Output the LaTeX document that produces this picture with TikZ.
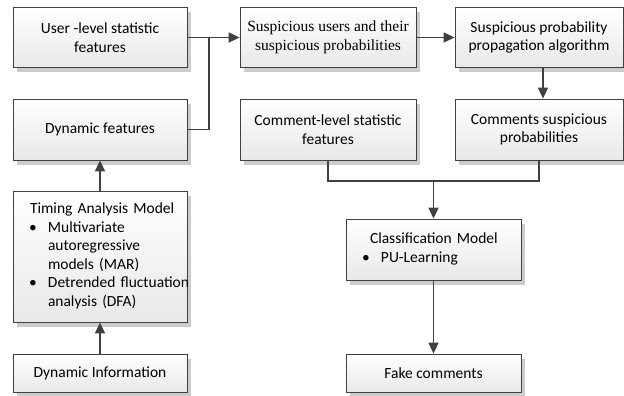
\documentclass[tikz,border=0pt]{standalone}
\usepackage{fontspec}
\setmainfont{Carlito}
\newfontfamily\timesfont{Liberation Serif}
\usetikzlibrary{arrows.meta,shadows}

\begin{document}
\begin{tikzpicture}[x=1pt,y=-1pt,
    box/.style={draw=black!75, line width=0.8pt, top color=white, bottom color=black!9,
      drop shadow={shadow xshift=4pt, shadow yshift=-5pt, fill=black!20, opacity=1},
      minimum width=174pt, minimum height=60pt, align=center, inner sep=2pt,
      font=\fontsize{15.5}{18.5}\selectfont},
    link/.style={draw=black!75, line width=1.5pt},
    arr/.style={link, -{Triangle[length=11pt,width=10pt]}}]
      \useasboundingbox (0,0) rectangle (624,396);

      \node[box] (b1) at (100,37.5){User -level statistic\\features};
      \node[box, minimum height=61pt] (b2) at (100,129.5){Dynamic features};
      \node[box, minimum height=131pt, text width=142pt, inner xsep=16pt, align=left] (b3) at (100,256.5){%
        \begin{tabular}{@{}p{19pt}@{}l@{}}
          \multicolumn{2}{@{\hspace{1pt}}l@{}}{Timing Analysis Model}\\
          \textbullet & Multivariate\\
          & autoregressive\\
          & models (MAR)\\
          \textbullet & Detrended fluctuation\\
          & analysis (DFA)
        \end{tabular}};
      \node[box, minimum height=38pt] (b4) at (100,373){Dynamic Information};

      \node[box, minimum width=176pt, font=\timesfont\fontsize{15.5}{18.5}\selectfont] (b5) at (328,37.5){Suspicious users and their\\suspicious probabilities};
      \node[box, minimum width=168pt] (b6) at (539,37.5){Suspicious probability\\propagation algorithm};
      \node[box, minimum width=176pt, minimum height=61pt] (b7) at (328,129.5){Comment-level statistic\\features};
      \node[box, minimum width=168pt, minimum height=61pt] (b8) at (539,129.5){Comments suspicious\\probabilities};

      \node[box, minimum width=175pt, minimum height=61pt, text width=143pt, inner xsep=16pt, align=left] (b9) at (433.5,249.5){%
        \begin{tabular}{@{}p{19pt}@{}l@{}}
          \multicolumn{2}{@{\hspace{8pt}}l@{}}{Classification Model}\\
          \textbullet & PU-Learning
        \end{tabular}};
      \node[box, minimum width=175pt, minimum height=38pt] (b10) at (433.5,373){Fake comments};

      \coordinate (j1) at (209,37.5);
      \coordinate (j2) at (433.5,181);

      \draw[arr] (b1) -- (b5);
      \draw[link] (b2.east) -| (j1);
      \draw[arr] (b3) -- (b2);
      \draw[arr] (b4) -- (b3);

      \draw[arr] (b5) -- (b6);
      \draw[arr] ([xshift=4pt]b6.south) -- ([xshift=4pt]b8.north);

      \draw[link] (b7.south) |- (j2) -| (b8.south);
      \draw[arr] (j2) -- (b9);
      \draw[arr] (b9) -- (b10);

    \end{tikzpicture}
\end{document}
